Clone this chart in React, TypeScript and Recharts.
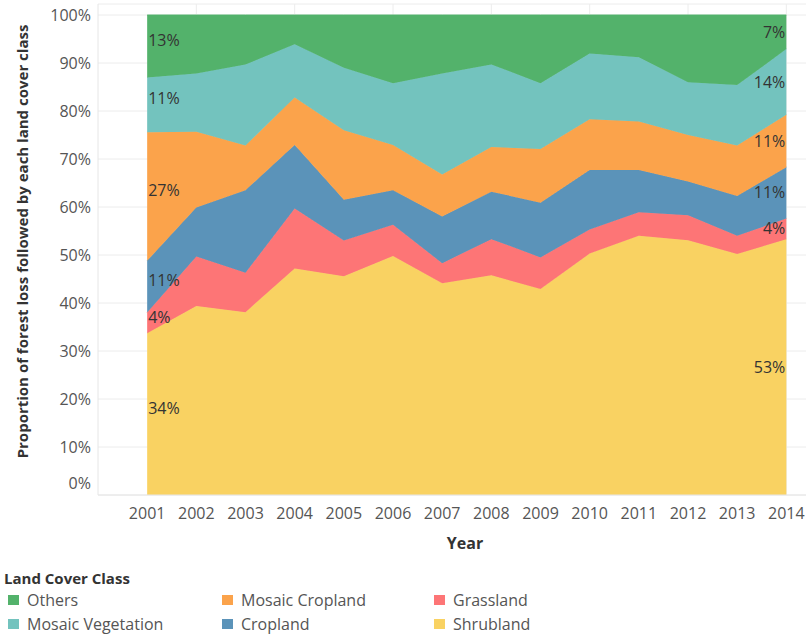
import React from 'react';
import { ComposedChart, Area, Line, XAxis, YAxis, CartesianGrid, LabelList } from 'recharts';

const years = [2001, 2002, 2003, 2004, 2005, 2006, 2007, 2008, 2009, 2010, 2011, 2012, 2013, 2014];
const evenYears = [2002, 2004, 2006, 2008, 2010, 2012, 2014];
const yTicks = [0, 10, 20, 30, 40, 50, 60, 70, 80, 90, 100];

const shrubland = [33.7, 39.4, 38.1, 47.2, 45.6, 49.8, 44.1, 45.8, 42.9, 50.3, 54.0, 53.1, 50.2, 53.3];
const grassland = [4.3, 10.3, 8.2, 12.5, 7.4, 6.5, 4.2, 7.5, 6.6, 5.0, 4.9, 5.2, 3.8, 4.3];
const cropland = [10.8, 10.2, 17.2, 13.2, 8.5, 7.2, 9.7, 9.9, 11.4, 12.4, 8.8, 7.0, 8.3, 10.7];
const mosaicCropland = [26.8, 15.8, 9.3, 9.9, 14.5, 9.4, 8.8, 9.3, 11.2, 10.6, 10.1, 9.7, 10.5, 10.9];
const mosaicVegetation = [11.4, 12.1, 16.9, 11.1, 13.0, 12.9, 21.0, 17.2, 13.7, 13.7, 13.4, 11.0, 12.6, 13.7];
const others = [13.0, 12.2, 10.3, 6.1, 11.0, 14.2, 12.2, 10.3, 14.2, 8.0, 8.8, 14.0, 14.6, 7.1];

// bottom to top stacking order
const series = [
  { key: 'shrubland', name: 'Shrubland', color: '#f9d262', values: shrubland },
  { key: 'grassland', name: 'Grassland', color: '#fd7576', values: grassland },
  { key: 'cropland', name: 'Cropland', color: '#5b93b9', values: cropland },
  { key: 'mosaicCropland', name: 'Mosaic Cropland', color: '#fba34b', values: mosaicCropland },
  { key: 'mosaicVegetation', name: 'Mosaic Vegetation', color: '#73c3be', values: mosaicVegetation },
  { key: 'others', name: 'Others', color: '#53b26b', values: others },
];

// legend order (column-major, top-to-bottom)
const legendOrder = ['Others', 'Mosaic Vegetation', 'Mosaic Cropland', 'Cropland', 'Grassland', 'Shrubland'];

const rows = years.map((year, i) => {
  const row: Record<string, number> = { year };
  let cum = 0;
  series.forEach((s) => {
    const v = s.values[i];
    row[s.key] = v;
    row[s.key + '_mid'] = cum + v / 2;
    cum += v;
  });
  return row;
});

const FONT = '"Open Sans", "Noto Sans", sans-serif';

const makeLabel = (key: string) => (props: any) => {
  const { x, y, index } = props;
  const last = years.length - 1;
  if (index !== 0 && index !== last) return null;
  const v = rows[index][key];
  return (
    <text
      x={index === 0 ? x + 1 : x - 1}
      y={index === 0 ? y - 6 : y}
      dy="0.35em"
      textAnchor={index === 0 ? 'start' : 'end'}
      fontSize={16}
      fill="#333"
      fontFamily={FONT}
    >
      {Math.round(v)}%
    </text>
  );
};

const YTick = (props: any) => {
  const { x, y, payload } = props;
  const shift = payload.value === 0 ? -12 : 0;
  return (
    <text x={x} y={y + shift} dy="0.35em" textAnchor="end" fontSize={16} fill="#555" fontFamily={FONT}>
      {payload.value}%
    </text>
  );
};

export default function App() {
  return (
    <div style={{ position: 'absolute', left: 0, top: 0, width: 809, height: 639, background: '#fff', fontFamily: FONT }}>
      <ComposedChart
        width={809}
        height={560}
        data={rows}
        margin={{ top: 4, right: 3, bottom: 0, left: 0 }}
      >
        <CartesianGrid stroke="#ececec" verticalValues={evenYears} />
        <XAxis
          type="number"
          dataKey="year"
          domain={[2000, 2014.4]}
          ticks={years}
          interval={0}
          tickLine={false}
          tickSize={6}
          tickMargin={7}
          axisLine={{ stroke: '#e6e6e6' }}
          height={65}
          tick={{ fontSize: 16, fill: '#555', fontFamily: FONT }}
          label={(p: any) => {
            const vb = p.viewBox;
            return (
              <text x={vb.x + vb.width / 2 + 13} y={543} dy="0.35em" textAnchor="middle" fontSize={16} fontWeight="bold" fill="#333" fontFamily={FONT}>
                Year
              </text>
            );
          }}
        />
        <YAxis
          type="number"
          domain={[0, 102.3]}
          ticks={yTicks}
          interval={0}
          width={98}
          tickLine={false}
          tickSize={6}
          tickMargin={1}
          axisLine={{ stroke: '#e6e6e6' }}
          tick={<YTick />}
          label={(p: any) => {
            const vb = p.viewBox;
            const cy = vb.y + vb.height / 2 - 8;
            return (
              <text
                x={22}
                y={cy}
                transform={`rotate(-90, 22, ${cy})`}
                dominantBaseline="central"
                textAnchor="middle"
                fontSize={15}
                fontWeight="bold"
                fill="#333"
                fontFamily={FONT}
              >
                Proportion of forest loss followed by each land cover class
              </text>
            );
          }}
        />
        {series.map((s) => (
          <Area
            key={s.key}
            type="linear"
            dataKey={s.key}
            name={s.name}
            stackId="1"
            fill={s.color}
            fillOpacity={1}
            stroke={s.color}
            strokeWidth={1}
            isAnimationActive={false}
            dot={false}
            activeDot={false}
          />
        ))}
        {series.map((s) => (
          <Line
            key={s.key + '_lbl'}
            type="linear"
            dataKey={s.key + '_mid'}
            stroke="none"
            dot={false}
            activeDot={false}
            legendType="none"
            isAnimationActive={false}
          >
            <LabelList dataKey={s.key + '_mid'} content={makeLabel(s.key)} />
          </Line>
        ))}
      </ComposedChart>
      <div style={{ position: 'absolute', left: 4, top: 568, fontSize: 15, fontWeight: 'bold', color: '#333', lineHeight: '20px' }}>
        Land Cover Class
      </div>
      {legendOrder.map((name, i) => {
        const s = series.find((q) => q.name === name)!;
        const col = Math.floor(i / 2);
        const row = i % 2;
        const left = [8, 222, 434][col];
        const top = [590, 614][row];
        return (
          <div key={name} style={{ position: 'absolute', left, top, height: 20, display: 'flex', alignItems: 'center' }}>
            <div style={{ width: 11, height: 10, background: s.color, marginRight: 8 }} />
            <span style={{ fontSize: 16, color: '#555', lineHeight: '20px', whiteSpace: 'nowrap' }}>{name}</span>
          </div>
        );
      })}
    </div>
  );
}
